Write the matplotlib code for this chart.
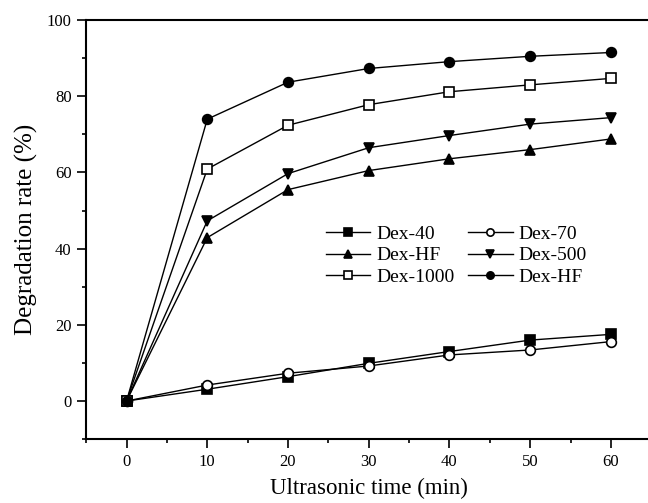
import numpy as np
import matplotlib.pyplot as plt
from matplotlib.ticker import MultipleLocator

time_min = [0, 10, 20, 30, 40, 50, 60]

dex_40 = [0, 3.1, 6.4, 9.9, 13.0, 16.0, 17.5]
dex_70 = [0, 4.2, 7.3, 9.2, 12.1, 13.4, 15.6]
dex_hf_tri = [0, 42.9, 55.5, 60.5, 63.6, 66.0, 68.8]
dex_500 = [0, 47.3, 59.7, 66.5, 69.7, 72.7, 74.4]
dex_1000 = [0, 60.9, 72.4, 77.8, 81.2, 83.0, 84.7]
dex_hf_circ = [0, 74.0, 83.7, 87.3, 89.1, 90.5, 91.5]

plt.rcParams['font.family'] = ['Liberation Serif', 'DejaVu Serif']

fig = plt.figure(figsize=(6.48, 5.03), dpi=100)
ax = fig.add_axes([0.133, 0.127, 0.872, 0.833])

series = [
    (dex_40, 's', 'black', 'Dex-40'),
    (dex_70, 'o', 'white', 'Dex-70'),
    (dex_hf_tri, '^', 'black', 'Dex-HF'),
    (dex_500, 'v', 'black', 'Dex-500'),
    (dex_1000, 's', 'white', 'Dex-1000'),
    (dex_hf_circ, 'o', 'black', 'Dex-HF'),
]

lines = []
for vals, mk, fc, lab in series:
    ln, = ax.plot(time_min, vals, color='black', lw=1.0, marker=mk, ms=7,
                  mfc=fc, mec='black', mew=1.2, label=lab)
    lines.append(ln)

ax.set_xlim(-5, 65)
ax.set_ylim(-10, 100)
ax.xaxis.set_major_locator(MultipleLocator(10))
ax.xaxis.set_minor_locator(MultipleLocator(5))
ax.yaxis.set_major_locator(MultipleLocator(20))
ax.yaxis.set_minor_locator(MultipleLocator(10))
ax.tick_params(which='both', direction='out', width=1.2, labelsize=12, pad=4)
ax.tick_params(which='major', length=6.5)
ax.tick_params(which='minor', length=3)
ax.spines['right'].set_visible(False)
for s in ['left', 'bottom', 'top']:
    ax.spines[s].set_linewidth(1.5)

ax.set_xlabel('Ultrasonic time (min)', fontsize=16.5, labelpad=6)
ax.set_ylabel('Degradation rate (%)', fontsize=18, labelpad=6)

# legend is filled row by row in the original
order = [0, 2, 4, 1, 3, 5]
ax.legend([lines[i] for i in order], [series[i][3] for i in order],
          ncol=2, loc='center', bbox_to_anchor=(0.655, 0.438), frameon=False,
          fontsize=14, markerscale=0.75, handlelength=2.3, handletextpad=0.3,
          labelspacing=0.2, columnspacing=0.7)

fig.savefig('out.png', dpi=100)
